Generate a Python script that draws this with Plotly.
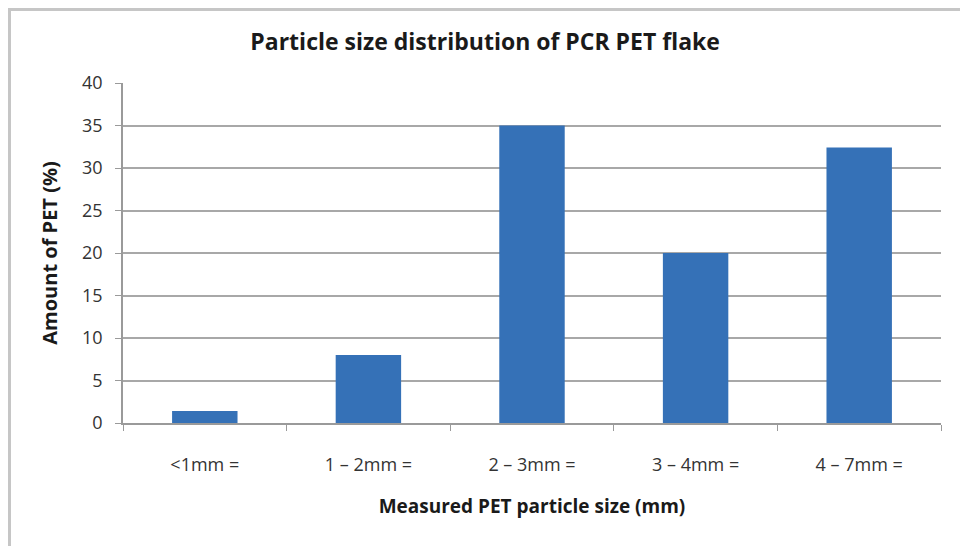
import plotly.graph_objects as go

categories = ["<1mm =", "1 – 2mm =", "2 – 3mm =", "3 – 4mm =", "4 – 7mm ="]
amount_pct = [1.4, 8, 35, 20, 32.4]
y_ticks = [0, 5, 10, 15, 20, 25, 30, 35, 40]

W, H = 960, 538
ML, MR, MT, MB = 115, 27, 75, 123
pw, ph = W - ML - MR, H - MT - MB

def px_x(px):
    return (px - ML) / pw

def px_y(py):
    return 1 - (py - MT) / ph

FONT = "'Open Sans', Lato, sans-serif"

fig = go.Figure(go.Bar(
    x=categories, y=amount_pct,
    marker=dict(color="#3571b7", line=dict(width=0)),
    width=0.4,
))

fig.update_layout(
    width=W, height=H,
    margin=dict(l=ML, r=MR, t=MT, b=MB),
    paper_bgcolor="white", plot_bgcolor="white",
    showlegend=False,
    font=dict(family=FONT, color="#333333", size=17),
    title=dict(text="<b>Particle size distribution of PCR PET flake</b>",
               x=0.497, xref="container", xanchor="center",
               y=1 - 34 / H, yref="container", yanchor="middle",
               font=dict(size=23, color="#1a1a1a", family=FONT)),
    xaxis=dict(
        title=dict(text="<b>Measured PET particle size (mm)</b>",
                   font=dict(size=19, color="#1a1a1a"), standoff=24),
        showline=True, linecolor="#9a9a9a", linewidth=1.5,
        ticks="outside", tickson="boundaries", ticklen=6, tickcolor="#9a9a9a",
        ticklabelstandoff=25,
        tickfont=dict(size=18, color="#333333"),
        showgrid=False,
    ),
    yaxis=dict(
        title=dict(text="<b>Amount of PET (%)</b>",
                   font=dict(size=20, color="#1a1a1a"), standoff=19),
        range=[0, 40], tickvals=y_ticks,
        showline=True, linecolor="#9a9a9a", linewidth=1.5,
        ticks="outside", ticklen=6, tickcolor="#9a9a9a",
        ticklabelstandoff=9,
        tickfont=dict(size=18, color="#333333"),
        showgrid=True, gridcolor="#a8a8a8", gridwidth=1.5,
        zeroline=False,
    ),
    shapes=[dict(type="rect", xref="paper", yref="paper",
                 x0=px_x(1.5), x1=px_x(957), y0=px_y(560), y1=px_y(1.5),
                 line=dict(color="#c6c6c6", width=3), fillcolor="rgba(0,0,0,0)",
                 layer="below")],
)

fig.write_html("out.html")
